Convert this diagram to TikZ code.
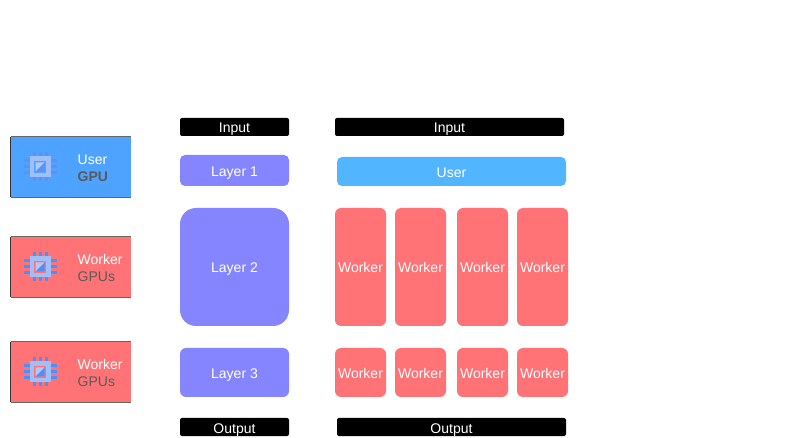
\documentclass[tikz,border=0pt]{standalone}
\usepackage{fontspec}
\setmainfont{Liberation Sans}
\usepackage{tikz}
\usetikzlibrary{positioning}
\definecolor{userblue}{RGB}{77,163,255}
\definecolor{userlight}{RGB}{82,181,255}
\definecolor{workerred}{RGB}{255,115,118}
\definecolor{layerpurple}{RGB}{133,133,255}
\definecolor{chipring}{RGB}{160,190,248}
\definecolor{chippin}{RGB}{74,144,250}
\definecolor{chippale}{RGB}{95,145,245}
\definecolor{chiptri}{RGB}{176,200,250}
\definecolor{gputext}{RGB}{90,90,90}

\begin{document}
\begin{tikzpicture}[x=1pt, y=-1pt,
  block/.style={rounded corners=5pt, inner sep=0pt, text=white, text height=12pt, text depth=0pt,
                font=\fontsize{14}{16}\selectfont},
  banner/.style={block, fill=black, rounded corners=2pt, minimum height=18pt},
  layerbox/.style={block, fill=layerpurple, minimum width=109pt},
  workerbox/.style={block, fill=workerred, minimum width=51pt, rounded corners=6pt},
  legendbox/.style={fill=#1, minimum width=120pt, minimum height=60pt, inner sep=0pt},
  legendtext/.style={anchor=west, inner sep=0pt, text height=12pt, text depth=0pt,
                     font=\fontsize{14}{16}\selectfont},
]
\useasboundingbox (0,0) rectangle (785,438);

% legend
\foreach \name/\colname/\pincol/\y/\first/\second/\secondfont in {
    user/userblue/chippale/167/User/GPU/\bfseries,
    workera/workerred/chippin/267/Worker/GPUs/,
    workerb/workerred/chippin/372/Worker/GPUs/} {
  \node[legendbox=\colname] (\name) at (71,\y) {};
  \draw[gray!80!black, line width=1pt] (\name.north west) -- (\name.north east);
  \draw[gray!80!black, line width=1pt] (\name.south west) -- (\name.south east);
  \draw[black!80, line width=1pt] (\name.north west) -- (\name.south west);
  \node[legendtext, text=white] (\name first) at (77.5,\y-8) {\first};
  \node[legendtext, text=gputext] (\name second) at (77.5,\y+9) {\secondfont\second};
  % chip
  \foreach \p in {-6,0,6} {
    \draw[\pincol, line width=3pt] (40+\p,\y-15) -- (40+\p,\y+14.5);
    \draw[\pincol, line width=3pt] (23.5,\y+\p) -- (56.5,\y+\p);
  }
  \fill[chipring] (29.5,\y-10.5) rectangle (50.5,\y+10.5);
  \fill[\colname] (34,\y-6) rectangle (46,\y+6);
  \fill[\pincol] (35.5,\y+4.5) -- (44.5,\y-4.5) -- (44.5,\y+4.5) -- cycle;
  \fill[chiptri] (35.5,\y+4.5) -- (44.5,\y-4.5) -- (35.5,\y-4.5) -- cycle;
}

% single GPU column
\node[banner, minimum width=109pt] (inputa) at (234.5,127) {Input};
\node[layerbox, minimum height=31pt] (layera) at (234.5,170.5) {Layer 1};
\node[layerbox, minimum height=118pt, rounded corners=16pt] (layerb) at (234.5,267) {Layer 2};
\node[layerbox, minimum height=49pt, rounded corners=6pt] (layerc) at (234.5,372.5) {Layer 3};
\node[banner, minimum width=109pt] (outputa) at (234.5,427) {Output};

% multi GPU column
\node[banner, minimum width=229pt] (inputb) at (449.5,127) {Input};
\node[block, fill=userlight, minimum width=229pt, minimum height=29pt] (userb) at (451.5,171.5) {User};
\foreach \i/\x in {1/360.5, 2/420.5, 3/482.5, 4/542.5} {
  \node[workerbox, minimum height=118pt] (upper\i) at (\x,267) {Worker};
  \node[workerbox, minimum height=49pt] (lower\i) at (\x,372.5) {Worker};
}
\node[banner, minimum width=229pt] (outputb) at (451.5,427) {Output};
\end{tikzpicture}
\end{document}
